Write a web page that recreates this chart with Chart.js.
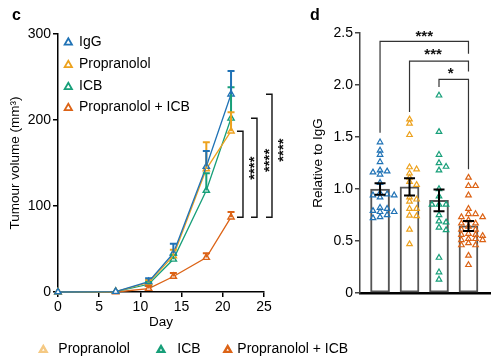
<!DOCTYPE html>
<html>
<head>
<meta charset="utf-8">
<script src="https://cdn.jsdelivr.net/npm/chart.js@4.4.1/dist/chart.umd.min.js"></script>
<style>
html, body { margin: 0; padding: 0; background: #fff; }
#wrap { position: relative; width: 497px; height: 364px; overflow: hidden; }
#growthChart { position: absolute; left: 0; top: 0; }
#ratioChart { position: absolute; left: 290px; top: 0; }
</style>
</head>
<body>
<div id="wrap">
  <canvas id="growthChart" width="497" height="364"></canvas>
  <canvas id="ratioChart" width="207" height="364"></canvas>
</div>
<script>
// --- DATA ---
const groupNames = ['IgG', 'Propranolol', 'ICB', 'Propranolol + ICB'];
const days = [0, 7, 11, 14, 18, 21];

// panel c: tumour volume (mm3), mean and upper SEM
const iggVolume   = [0, 0.5, 12, 45, 146, 230];
const propVolume  = [0, 0.5, 11, 42, 143, 187];
const icbVolume   = [0, 0.5, 9, 38, 118, 202];
const comboVolume = [0, 0, 4, 18, 40, 87];
const iggVolErr   = [0, 0, 4, 11, 18, 27];
const propVolErr  = [0, 0, 3, 7, 31, 22];
const icbVolErr   = [0, 0, 3, 5, 20, 36];
const comboVolErr = [0, 0, 3, 4, 5, 6];
const volumeTicks = [0, 100, 200, 300];
const dayTicks = [0, 5, 10, 15, 20, 25];

// panel d: relative to IgG, individual tumours + mean ± SEM
const iggRatio   = [1.45, 1.37, 1.33, 1.26, 1.18, 1.17, 1.16, 1.14, 1.06, 0.96, 0.95, 0.94, 0.94, 0.92, 0.82, 0.81, 0.79, 0.78, 0.78, 0.75, 0.73, 0.72];
const propRatio  = [1.67, 1.63, 1.52, 1.21, 1.19, 1.15, 1.11, 1.07, 1.04, 0.92, 0.90, 0.88, 0.81, 0.81, 0.745, 0.74, 0.61, 0.47];
const icbRatio   = [1.90, 1.55, 1.33, 1.25, 1.215, 1.18, 1.00, 0.93, 0.85, 0.85, 0.85, 0.75, 0.69, 0.68, 0.63, 0.605, 0.34, 0.20, 0.13];
const comboRatio = [1.11, 1.03, 1.03, 0.94, 0.81, 0.76, 0.76, 0.73, 0.73, 0.70, 0.67, 0.67, 0.64, 0.61, 0.61, 0.57, 0.56, 0.56, 0.55, 0.52, 0.52, 0.51, 0.51, 0.48, 0.46, 0.46, 0.36, 0.27];
const ratioMean  = [1.00, 1.02, 0.89, 0.645];
const ratioSem   = [0.055, 0.083, 0.105, 0.048];
const ratioTicks = [0, 0.5, 1.0, 1.5, 2.0, 2.5];

const colours = ['#1f72b5', '#eda21e', '#179f79', '#dc6316'];
const volumes = [iggVolume, propVolume, icbVolume, comboVolume];
const volErrs = [iggVolErr, propVolErr, icbVolErr, comboVolErr];
const ratios = [iggRatio, propRatio, icbRatio, comboRatio];

Chart.defaults.font.family = '"Liberation Sans", Arial, Helvetica, sans-serif';
Chart.defaults.color = '#000';

// --- HELPERS ---
function drawStars(ctx, text, px, py, size, vertical) {
    ctx.save();
    ctx.translate(px, py);
    if (vertical) ctx.rotate(-Math.PI / 2);
    ctx.font = 'bold ' + size + 'px "Liberation Sans", Arial, sans-serif';
    ctx.textAlign = 'center';
    ctx.textBaseline = 'alphabetic';
    ctx.fillStyle = '#111';
    ctx.fillText(text, 0, size * 0.57);
    ctx.restore();
}

function drawTriangle(ctx, cx, cy, r, colour, lw) {
    ctx.save();
    ctx.strokeStyle = colour;
    ctx.lineWidth = lw;
    ctx.beginPath();
    for (let k = 0; k < 3; k++) {
        const a = k * 2 * Math.PI / 3;
        const px = cx + Math.sin(a) * r, py = cy - Math.cos(a) * r;
        if (k === 0) ctx.moveTo(px, py); else ctx.lineTo(px, py);
    }
    ctx.closePath();
    ctx.stroke();
    ctx.restore();
}

// simple beeswarm so that close values sit side by side
function swarm(values, centre) {
    const placed = [];
    return values.slice().sort((a, b) => b - a).map(v => {
        let k = 0, dx = 0;
        for (;;) {
            dx = (k % 2 ? 1 : -1) * Math.ceil(k / 2) * 0.12;
            if (!placed.some(p => Math.abs(p.y - v) < 0.035 && Math.abs(p.x - dx) < 0.19)) break;
            k++;
        }
        placed.push({ x: dx, y: v });
        return { x: centre + dx, y: v };
    });
}

// --- PANEL C ---
const growthBrackets = [
    { group: 1, atDay: 22.45, markDay: 23.4, markLevel: 144 },
    { group: 2, atDay: 24.15, markDay: 25.2, markLevel: 153 },
    { group: 0, atDay: 25.97, markDay: 26.9, markLevel: 165 }
];
const legendRows = [42, 64.5, 86.5, 107.5];

const growthDecor = {
    id: 'growthDecor',
    afterDatasetsDraw(chart) {
        const { ctx, scales: { x, y } } = chart;
        ctx.save();
        ctx.lineWidth = 2;
        for (let g = volumes.length - 1; g >= 0; g--) {
            ctx.strokeStyle = colours[g];
            days.forEach((d, k) => {
                if (!volErrs[g][k]) return;
                const px = x.getPixelForValue(d);
                const y0 = y.getPixelForValue(volumes[g][k]);
                const y1 = y.getPixelForValue(volumes[g][k] + volErrs[g][k]);
                ctx.beginPath();
                ctx.moveTo(px, y0); ctx.lineTo(px, y1);
                ctx.moveTo(px - 3.5, y1); ctx.lineTo(px + 3.5, y1);
                ctx.stroke();
            });
        }
        ctx.restore();
    },
    afterDraw(chart) {
        const { ctx, scales: { x, y } } = chart;
        const last = days.length - 1;
        ctx.save();
        // panel letter
        ctx.font = 'bold 16px "Liberation Sans", Arial, sans-serif';
        ctx.fillStyle = '#000';
        ctx.textBaseline = 'alphabetic';
        ctx.fillText('c', 12, 19.5);

        // legend inside the plot
        ctx.font = '14px "Liberation Sans", Arial, sans-serif';
        ctx.textBaseline = 'middle';
        groupNames.forEach((name, i) => {
            drawTriangle(ctx, 68.3, legendRows[i] + 0.5, 4.2, colours[i], 1.8);
            ctx.fillStyle = '#000';
            ctx.fillText(name, 79, legendRows[i]);
        });

        // significance brackets
        ctx.strokeStyle = '#111';
        ctx.lineWidth = 1.4;
        growthBrackets.forEach(b => {
            const bx = x.getPixelForValue(b.atDay);
            const top = y.getPixelForValue(volumes[b.group][last]);
            const bottom = y.getPixelForValue(comboVolume[last]);
            ctx.beginPath();
            ctx.moveTo(bx - 6, top); ctx.lineTo(bx, top);
            ctx.lineTo(bx, bottom); ctx.lineTo(bx - 6, bottom);
            ctx.stroke();
            drawStars(ctx, '****', x.getPixelForValue(b.markDay), y.getPixelForValue(b.markLevel), 15, true);
        });

        // cropped legend row at the bottom
        const bottomRow = [
            { tri: 43.3, text: 58.3, colour: '#f5c983', name: groupNames[1] },
            { tri: 161, text: 177.3, colour: colours[2], name: groupNames[2] },
            { tri: 227.7, text: 237.3, colour: colours[3], name: groupNames[3] }
        ];
        bottomRow.forEach(item => {
            drawTriangle(ctx, item.tri, 350, 3.8, item.colour, 2.4);
            ctx.fillStyle = '#000';
            ctx.font = '14px "Liberation Sans", Arial, sans-serif';
            ctx.textBaseline = 'middle';
            ctx.fillText(item.name, item.text, 349);
        });
        ctx.restore();
    }
};

new Chart(document.getElementById('growthChart'), {
    type: 'line',
    data: {
        datasets: groupNames.map((name, i) => ({
            label: name,
            data: days.map((d, k) => ({ x: d, y: volumes[i][k] })),
            borderColor: colours[i],
            borderWidth: 1.3,
            pointStyle: 'triangle',
            pointRadius: 3.6,
            pointBorderWidth: 1.4,
            pointBorderColor: colours[i],
            pointBackgroundColor: '#fff',
            tension: 0,
            clip: false
        }))
    },
    options: {
        responsive: false,
        animation: false,
        events: [],
        layout: { padding: { left: 0, top: 34, right: 233, bottom: 32 } },
        plugins: { legend: { display: false }, tooltip: { enabled: false } },
        scales: {
            x: {
                type: 'linear', min: dayTicks[0], max: dayTicks[dayTicks.length - 1],
                afterBuildTicks: s => { s.ticks = dayTicks.map(v => ({ value: v })); },
                ticks: { color: '#000', font: { size: 14 }, padding: 2, maxRotation: 0 },
                grid: { drawOnChartArea: false, tickLength: 5, color: '#000', lineWidth: 1.5 },
                border: { color: '#000', width: 1.5 },
                title: { display: true, text: 'Day', color: '#000', font: { size: 13.5 }, padding: { top: 0, bottom: 2 } },
                afterFit: s => { s.height = 40; }
            },
            y: {
                min: volumeTicks[0], max: volumeTicks[volumeTicks.length - 1],
                afterBuildTicks: s => { s.ticks = volumeTicks.map(v => ({ value: v })); },
                ticks: { color: '#000', font: { size: 14 }, padding: 2 },
                grid: { drawOnChartArea: false, tickLength: 5, color: '#000', lineWidth: 1.5 },
                border: { color: '#000', width: 1.5 },
                title: { display: true, text: 'Tumour volume (mm³)', color: '#000', font: { size: 13.5 }, padding: { top: 7 } },
                afterFit: s => { s.width = 58; }
            }
        }
    },
    plugins: [growthDecor]
});

// --- PANEL D ---
const ratioBrackets = [
    { from: 1, to: 4, level: 2.42, fromEnd: 1.54, toEnd: 2.30, mark: '***', markX: 2.5, markY: 2.51 },
    { from: 2, to: 4, level: 2.23, fromEnd: 1.74, toEnd: 2.13, mark: '***', markX: 2.8, markY: 2.33 },
    { from: 3, to: 4, level: 2.055, fromEnd: 1.98, toEnd: 1.19, mark: '*', markX: 3.4, markY: 2.15 }
];

const ratioDecor = {
    id: 'ratioDecor',
    afterDatasetsDraw(chart) {
        const { ctx, scales: { x, y } } = chart;
        ctx.save();
        ctx.strokeStyle = '#000';
        ctx.lineWidth = 2;
        ratioMean.forEach((m, i) => {
            const px = x.getPixelForValue(i + 1);
            const lo = y.getPixelForValue(m - ratioSem[i]);
            const hi = y.getPixelForValue(m + ratioSem[i]);
            ctx.beginPath();
            ctx.moveTo(px, lo); ctx.lineTo(px, hi);
            ctx.moveTo(px - 5.5, lo); ctx.lineTo(px + 5.5, lo);
            ctx.moveTo(px - 5.5, hi); ctx.lineTo(px + 5.5, hi);
            ctx.stroke();
        });
        ctx.restore();
    },
    afterDraw(chart) {
        const { ctx, scales: { x, y } } = chart;
        ctx.save();
        ctx.font = 'bold 16px "Liberation Sans", Arial, sans-serif';
        ctx.fillStyle = '#000';
        ctx.fillText('d', 20, 19.5);

        ctx.strokeStyle = '#333';
        ctx.lineWidth = 1.2;
        ratioBrackets.forEach(b => {
            const x0 = x.getPixelForValue(b.from), x1 = x.getPixelForValue(b.to);
            const yl = y.getPixelForValue(b.level);
            ctx.beginPath();
            ctx.moveTo(x0, y.getPixelForValue(b.fromEnd));
            ctx.lineTo(x0, yl); ctx.lineTo(x1, yl);
            ctx.lineTo(x1, y.getPixelForValue(b.toEnd));
            ctx.stroke();
            drawStars(ctx, b.mark, x.getPixelForValue(b.markX), y.getPixelForValue(b.markY), 15, false);
        });
        ctx.restore();
    }
};

new Chart(document.getElementById('ratioChart'), {
    type: 'bar',
    data: {
        datasets: [
            {
                type: 'bar',
                data: ratioMean.map((m, i) => ({ x: i + 1, y: m })),
                backgroundColor: '#fff',
                borderColor: '#555',
                borderWidth: 2,
                borderSkipped: false,
                barThickness: 19,
                order: 2
            },
            ...groupNames.map((name, i) => ({
                type: 'scatter',
                label: name,
                data: swarm(ratios[i], i + 1),
                pointStyle: 'triangle',
                pointRadius: 3.2,
                pointBorderWidth: 1.2,
                pointBorderColor: colours[i],
                pointBackgroundColor: 'rgba(255,255,255,0)',
                order: 1,
                clip: false
            }))
        ]
    },
    options: {
        responsive: false,
        animation: false,
        events: [],
        layout: { padding: { left: 12, top: 33, right: 7, bottom: 71 } },
        plugins: { legend: { display: false }, tooltip: { enabled: false } },
        scales: {
            x: {
                type: 'linear', min: 0.32, max: 4.73, offset: false,
                ticks: { display: false },
                grid: { display: false, offset: false },
                border: { color: '#000', width: 2.5 },
                afterFit: s => { s.height = 0; }
            },
            y: {
                min: ratioTicks[0], max: ratioTicks[ratioTicks.length - 1],
                afterBuildTicks: s => { s.ticks = ratioTicks.map(v => ({ value: v })); },
                ticks: { color: '#000', font: { size: 14 }, padding: 2, callback: v => (v === 0 ? '0' : v.toFixed(1)) },
                grid: { drawOnChartArea: false, tickLength: 5, color: '#444', lineWidth: 1.5 },
                border: { color: '#444', width: 1.5 },
                title: { display: true, text: 'Relative to IgG', color: '#000', font: { size: 13.5 }, padding: { top: 8 } },
                afterFit: s => { s.width = 58; }
            }
        }
    },
    plugins: [ratioDecor]
});
</script>
</body>
</html>
